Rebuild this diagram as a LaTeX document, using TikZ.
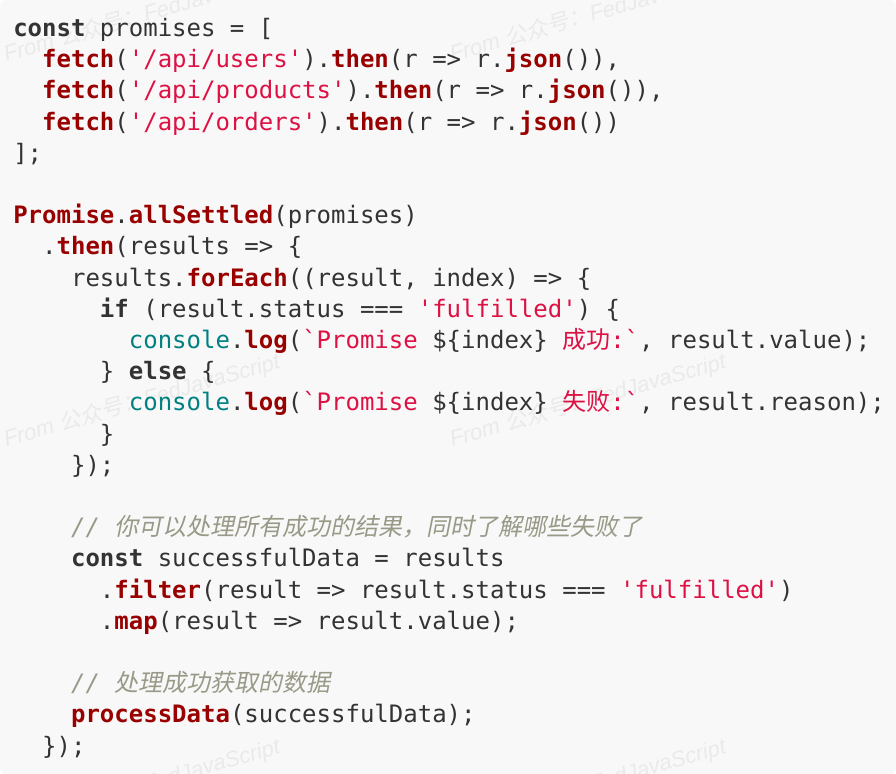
\documentclass[tikz,border=0pt]{standalone}
\usepackage{fontspec}
\usepackage{xcolor}
\usepackage{tikz}
\usetikzlibrary{positioning}
\setmonofont{DejaVu Sans Mono}
\newfontfamily\cjk{Noto Sans CJK SC}
\newfontfamily\cjkit{Noto Sans CJK SC}[FakeSlant=0.2]
\newfontfamily\wmfont{Liberation Sans}

\definecolor{codebg}{HTML}{F8F8F8}
\definecolor{plaingray}{HTML}{333333}
\definecolor{fnred}{HTML}{990000}
\definecolor{strred}{HTML}{DD1144}
\definecolor{consoleteal}{HTML}{008080}
\definecolor{cmtgray}{HTML}{999988}
\definecolor{wmgray}{HTML}{EAEAEA}

\newcommand\kw[1]{{\bfseries #1}}
\newcommand\fn[1]{\textcolor{fnred}{\bfseries #1}}
\newcommand\str[1]{\textcolor{strred}{#1}}
\newcommand\bi[1]{\textcolor{consoleteal}{#1}}
\newcommand\cmt[1]{\textcolor{cmtgray}{\itshape #1}}

\def\cw{14.45}
\def\lh{31.2}
\def\base{36.5}

\tikzset{
  codeline/.style={anchor=base west, inner sep=0pt, text=plaingray,
    font=\ttfamily\fontsize{18pt}{22pt}\selectfont},
  wmark/.style={anchor=base west, inner sep=0pt, rotate=16, text=wmgray,
    font=\wmfont\itshape\fontsize{16.5pt}{18pt}\selectfont}
}

\begin{document}
\begin{tikzpicture}[x=0.75pt,y=-0.75pt]
  \useasboundingbox (0,0) rectangle (896,774);
  \fill[white] (0,0) rectangle (896,774);
  \fill[codebg, rounded corners=5] (0,0) rectangle (896,774);

  % watermark
  \begin{scope}
    \clip[rounded corners=5] (0,0) rectangle (896,774);
    \foreach \wx in {6,452}
      \foreach \wy in {62,447,832}
        \node[wmark] at (\wx,\wy) {From {\cjkit 公众号：}FedJavaScript};
  \end{scope}

  % code
  \node[codeline] (l1) at ({13},{\base+0*\lh}) {\kw{const} promises = [};
  \node[codeline] (l2) at ({13+2*\cw},{\base+1*\lh}) {\fn{fetch}(\str{'/api/users'}).\fn{then}(r => r.\fn{json}()),};
  \node[codeline] (l3) at ({13+2*\cw},{\base+2*\lh}) {\fn{fetch}(\str{'/api/products'}).\fn{then}(r => r.\fn{json}()),};
  \node[codeline] (l4) at ({13+2*\cw},{\base+3*\lh}) {\fn{fetch}(\str{'/api/orders'}).\fn{then}(r => r.\fn{json}())};
  \node[codeline] (l5) at ({13},{\base+4*\lh}) {];};

  \node[codeline] (l7) at ({13},{\base+6*\lh}) {\fn{Promise}.\fn{allSettled}(promises)};
  \node[codeline] (l8) at ({13+2*\cw},{\base+7*\lh}) {.\fn{then}(results => \{};
  \node[codeline] (l9) at ({13+4*\cw},{\base+8*\lh}) {results.\fn{forEach}((result, index) => \{};
  \node[codeline] (l10) at ({13+6*\cw},{\base+9*\lh}) {\kw{if} (result.status === \str{'fulfilled'}) \{};
  \node[codeline] (l11) at ({13+8*\cw},{\base+10*\lh}) {\bi{console}.\fn{log}(\str{`Promise} \$\{index\} \str{{\cjk 成功}:`}, result.value);};
  \node[codeline] (l12) at ({13+6*\cw},{\base+11*\lh}) {\} \kw{else} \{};
  \node[codeline] (l13) at ({13+8*\cw},{\base+12*\lh}) {\bi{console}.\fn{log}(\str{`Promise} \$\{index\} \str{{\cjk 失败}:`}, result.reason);};
  \node[codeline] (l14) at ({13+6*\cw},{\base+13*\lh}) {\}};
  \node[codeline] (l15) at ({13+4*\cw},{\base+14*\lh}) {\});};

  \node[codeline] (l17) at ({13+4*\cw},{\base+16*\lh}) {\cmt{// {\cjkit 你可以处理所有成功的结果，同时了解哪些失败了}}};
  \node[codeline] (l18) at ({13+4*\cw},{\base+17*\lh}) {\kw{const} successfulData = results};
  \node[codeline] (l19) at ({13+6*\cw},{\base+18*\lh}) {.\fn{filter}(result => result.status === \str{'fulfilled'})};
  \node[codeline] (l20) at ({13+6*\cw},{\base+19*\lh}) {.\fn{map}(result => result.value);};

  \node[codeline] (l22) at ({13+4*\cw},{\base+21*\lh}) {\cmt{// {\cjkit 处理成功获取的数据}}};
  \node[codeline] (l23) at ({13+4*\cw},{\base+22*\lh}) {\fn{processData}(successfulData);};
  \node[codeline] (l24) at ({13+2*\cw},{\base+23*\lh}) {\});};
\end{tikzpicture}
\end{document}
